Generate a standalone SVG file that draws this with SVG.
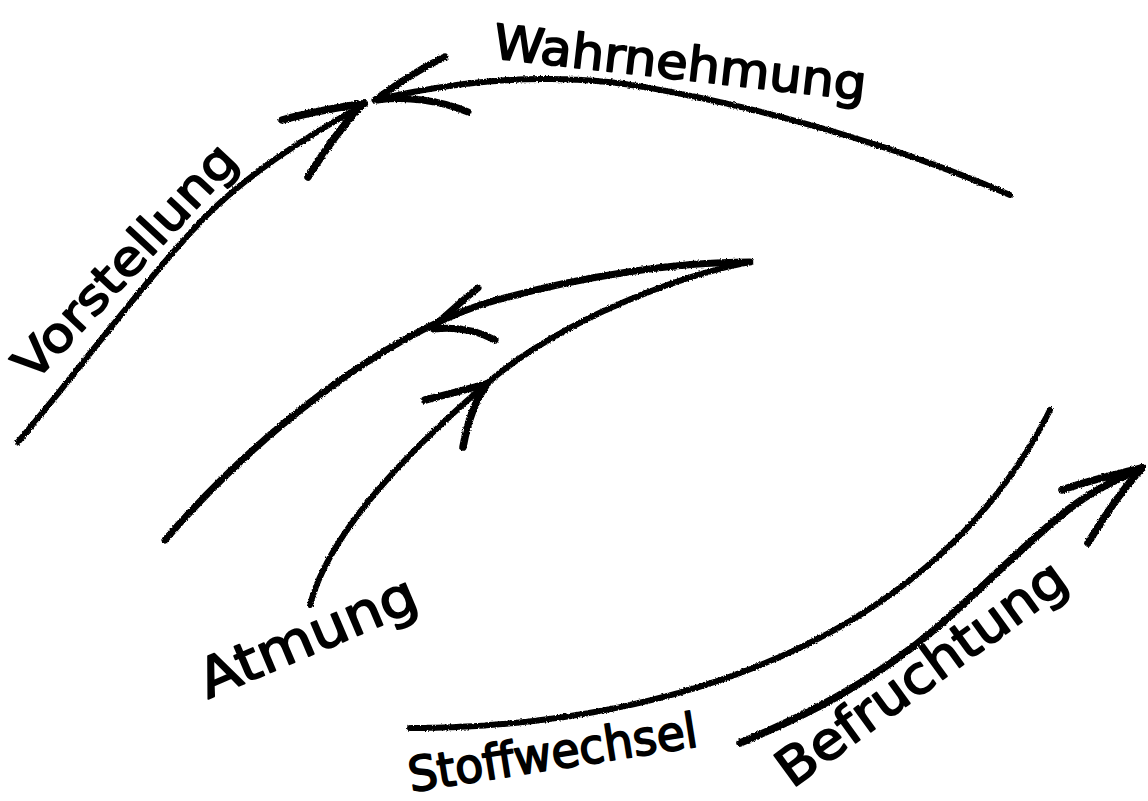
<svg xmlns="http://www.w3.org/2000/svg" width="1148" height="801" viewBox="0 0 1148 801">
<style>
.ln{fill:none;stroke:#000;stroke-width:7;stroke-linecap:round;stroke-linejoin:round}
.lt{fill:none;stroke:#000;stroke-width:6;stroke-linecap:round;stroke-dasharray:16 1.5 7 1}
.lb{fill:none;stroke:#000;stroke-width:7.5;stroke-linecap:round;stroke-linejoin:round}
.tx{font-family:"DejaVu Sans","Liberation Sans",sans-serif;fill:#000;stroke:#000;stroke-width:1.8;stroke-linejoin:round}
</style>
<defs>
<filter id="rough" x="-5%" y="-5%" width="110%" height="110%">
<feTurbulence type="fractalNoise" baseFrequency="0.6" numOctaves="2" seed="3" result="n"/>
<feDisplacementMap in="SourceGraphic" in2="n" scale="3" xChannelSelector="R" yChannelSelector="G"/>
</filter>
</defs>
<rect width="1148" height="801" fill="#fff"/>
<g id="connectors" filter="url(#rough)">
<path class="lt" d="M1010,195 C930,160 800,115 650,88 C560,72 470,78 375,100"/>
<path class="ln" d="M375,100 C400,82 425,66 445,57"/>
<path class="ln" d="M377,100 C405,96 440,100 468,112"/>
<path class="lt" d="M18,442 C75,375 145,280 205,217 C255,168 310,135 365,104"/>
<path class="lb" d="M282,120 C310,112 335,108 360,104"/>
<path class="lb" d="M308,177 C325,150 345,122 364,103"/>
<path class="ln" d="M165,540 C260,430 380,340 480,305 C580,275 680,262 750,262"/>
<path class="lt" d="M750,262 C680,275 560,320 485,385 C410,450 330,530 310,605"/>
<path class="ln" d="M432,328 C450,312 465,298 478,288"/>
<path class="ln" d="M434,329 C460,326 480,332 495,340"/>
<path class="lb" d="M425,400 C445,395 465,390 486,384"/>
<path class="lb" d="M463,447 C467,425 474,402 487,384"/>
<path class="lt" d="M410,728 C650,728 930,650 1050,410"/>
<path class="lb" d="M740,743 C800,718 870,685 940,625 C990,580 1030,540 1065,512 C1090,492 1115,480 1142,468"/>
<path class="lb" d="M1062,490 C1090,480 1115,475 1142,468"/>
<path class="lb" d="M1088,543 C1102,520 1120,492 1142,468"/>
</g>
<g id="wahrnehmung"><text class="tx" x="492" y="58" font-size="48" textLength="375" lengthAdjust="spacingAndGlyphs" transform="rotate(6.5 492 58)">Wahrnehmung</text></g>
<g id="vorstellung"><text class="tx" x="34" y="383" font-size="48" textLength="302" lengthAdjust="spacingAndGlyphs" transform="rotate(-47 34 383)">Vorstellung</text></g>
<g id="atmung"><text class="tx" x="208" y="699" font-size="54" textLength="232" lengthAdjust="spacingAndGlyphs" transform="rotate(-23 208 699)">Atmung</text></g>
<g id="stoffwechsel"><text class="tx" x="411" y="792" font-size="48" textLength="292" lengthAdjust="spacingAndGlyphs" transform="rotate(-9 411 792)">Stoffwechsel</text></g>
<g id="befruchtung"><text class="tx" x="792" y="789" font-size="52" textLength="345" lengthAdjust="spacingAndGlyphs" transform="rotate(-36 792 789)">Befruchtung</text></g>
</svg>
